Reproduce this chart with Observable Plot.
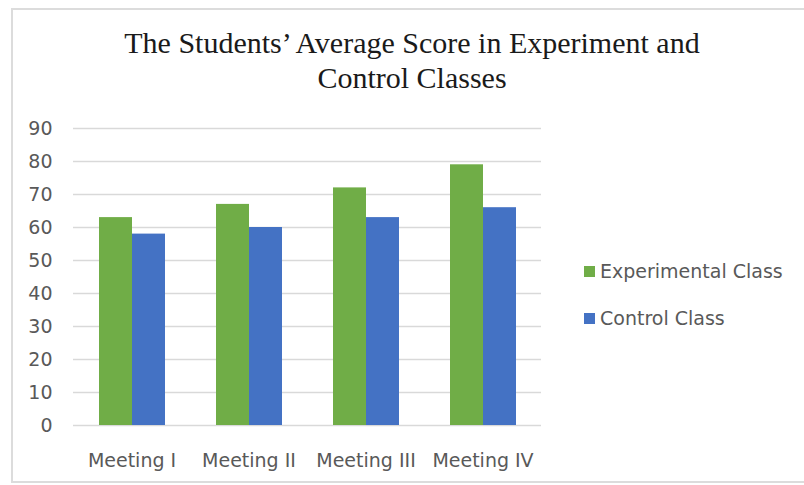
<!DOCTYPE html>
<html>
<head>
<meta charset="utf-8">
<script src="https://cdn.jsdelivr.net/npm/d3@7"></script>
<script src="https://cdn.jsdelivr.net/npm/@observablehq/plot@0.6"></script>
<style>
  html, body { margin: 0; padding: 0; background: #fff; }
  #page { position: relative; width: 804px; height: 485px; overflow: hidden; background: #fff; }
  #frame { position: absolute; left: 11px; top: 8px; width: 830px; height: 475px; border: 2px solid #dcdcdc; box-sizing: border-box; }
  #title { position: absolute; left: 0; top: 25px; width: 824px; text-align: center;
           font-family: "Liberation Serif", "Times New Roman", serif; font-size: 30px; line-height: 35px; color: #1a1a1a; }
  #chart { position: absolute; left: 0; top: 0; }
  .leg { position: absolute; left: 584px; font-family: "DejaVu Sans", sans-serif; font-size: 19px; color: #595959; line-height: 22px; }
  .leg span.sw { position: absolute; left: 0; top: 6px; width: 11px; height: 11px; }
  .leg span.tx { position: absolute; left: 16px; top: 0; white-space: nowrap; }
</style>
</head>
<body>
<div id="page">
  <div id="frame"></div>
  <div id="chart"></div>
  <div id="title">The Students’ Average Score in Experiment and<br>Control Classes</div>
  <div id="legend"></div>
</div>
<script>
const meetings = ["Meeting I", "Meeting II", "Meeting III", "Meeting IV"];
const series = ["Experimental Class", "Control Class"];
const experimental = [63, 67, 72, 79];
const control = [58, 60, 63, 66];
const yTicks = [0, 10, 20, 30, 40, 50, 60, 70, 80, 90];
const colors = ["#70ad47", "#4472c4"];

const rows = [];
meetings.forEach((m, i) => {
  rows.push({meeting: m, series: series[0], value: experimental[i]});
  rows.push({meeting: m, series: series[1], value: control[i]});
});

const chart = Plot.plot({
  width: 560,
  height: 485,
  marginLeft: 73,
  marginRight: 19,
  marginTop: 128,
  marginBottom: 60,
  style: {fontFamily: "'DejaVu Sans', sans-serif", fontSize: "19px", color: "#595959", background: "transparent"},
  fx: {domain: meetings, padding: 0, axis: "bottom", tickSize: 0, tickPadding: 28, label: null},
  x: {domain: series, paddingInner: 0, paddingOuter: 0.77, axis: null},
  y: {domain: [0, 90], ticks: yTicks, tickSize: 0, tickPadding: 21, label: null},
  color: {domain: series, range: colors},
  marks: [
    Plot.ruleY(yTicks, {stroke: "#d9d9d9", strokeWidth: 1.5}),
    Plot.barY(rows, {fx: "meeting", x: "series", y: "value", fill: "series"})
  ]
});
document.getElementById("chart").appendChild(chart);

const legend = document.getElementById("legend");
series.forEach((s, i) => {
  const d = document.createElement("div");
  d.className = "leg";
  d.style.top = (260 + i * 47) + "px";
  d.innerHTML = `<span class="sw" style="background:${colors[i]}"></span><span class="tx">${s}</span>`;
  legend.appendChild(d);
});
</script>
</body>
</html>
